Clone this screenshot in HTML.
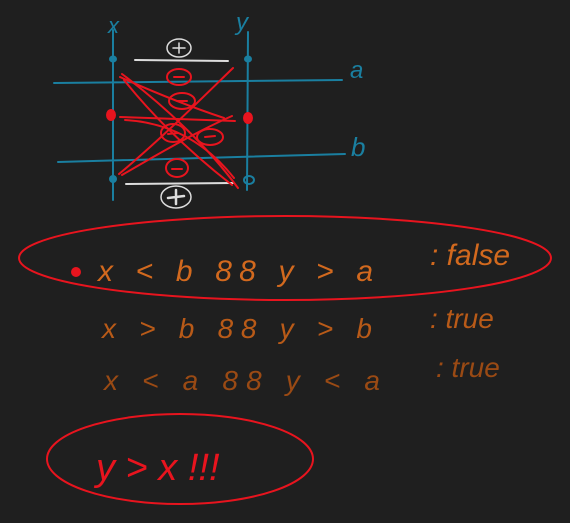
<!DOCTYPE html>
<html><head><meta charset="utf-8"><style>
html,body{margin:0;padding:0;background:#1f1f1f;width:570px;height:523px;overflow:hidden}
text{font-family:"Liberation Sans",sans-serif;font-style:italic}
</style></head><body>
<svg width="570" height="523" viewBox="0 0 570 523" xmlns="http://www.w3.org/2000/svg">
<rect width="570" height="523" fill="#1f1f1f"/>
<g fill="none" stroke-linecap="round">
  <path d="M113 30 L113 200" stroke="#1a7fa0" stroke-width="2"/>
  <path d="M248 32 L247 190" stroke="#1a7fa0" stroke-width="2"/>
  <path d="M54 83 L342 80" stroke="#1a7fa0" stroke-width="2"/>
  <path d="M58 162 L345 154" stroke="#1a7fa0" stroke-width="2"/>
  <text x="108" y="33" fill="#1a7fa0" font-size="22" stroke="none">x</text>
  <text x="236" y="30" fill="#1a7fa0" font-size="24" stroke="none">y</text>
  <text x="350" y="78" fill="#1a7fa0" font-size="24" stroke="none">a</text>
  <text x="351" y="156" fill="#1a7fa0" font-size="26" stroke="none">b</text>
  <ellipse cx="113" cy="59" rx="4" ry="3.5" fill="#1a7fa0" stroke="none"/>
  <ellipse cx="248" cy="59" rx="4" ry="3.5" fill="#1a7fa0" stroke="none"/>
  <ellipse cx="113" cy="179" rx="4" ry="4" fill="#1a7fa0" stroke="none"/>
  <ellipse cx="249" cy="180" rx="5" ry="4" stroke="#1a7fa0" stroke-width="2"/>
  <ellipse cx="111" cy="115" rx="5" ry="6" fill="#e8141e" stroke="none"/>
  <ellipse cx="248" cy="118" rx="5" ry="6" fill="#e8141e" stroke="none"/>
  <path d="M135 60 L228 61" stroke="#ddd" stroke-width="2"/>
  <path d="M126 184 L233 183" stroke="#ddd" stroke-width="2"/>
  <ellipse cx="179" cy="48" rx="12" ry="9" stroke="#ddd" stroke-width="1.5"/>
  <path d="M173 48 L185 48 M179 43 L179 53" stroke="#ddd" stroke-width="1.5"/>
  <ellipse cx="176" cy="197" rx="15" ry="11" stroke="#ddd" stroke-width="1.5"/>
  <path d="M168 198 L184 196 M176 190 L176 204" stroke="#ddd" stroke-width="2.5"/>
  <g stroke="#e8141e" stroke-width="2">
    <path d="M122 74 C170 110 210 150 238 188"/>
    <path d="M120 77 C160 95 200 110 224 118"/>
    <path d="M119 174 C160 140 200 100 233 68"/>
    <path d="M122 175 C165 150 200 130 232 116"/>
    <path d="M120 117 L235 121"/>
    <path d="M124 80 C160 125 200 160 232 185"/>
    <path d="M125 120 C160 122 200 135 234 178"/>
    <ellipse cx="179" cy="77" rx="12" ry="8"/>
    <ellipse cx="182" cy="101" rx="13" ry="8"/>
    <ellipse cx="173" cy="133" rx="12" ry="9"/>
    <ellipse cx="210" cy="137" rx="13" ry="8"/>
    <ellipse cx="177" cy="168" rx="11" ry="9"/>
    <path d="M174 77 L184 77 M177 101 L187 101 M168 134 L178 133 M205 137 L215 136 M172 169 L182 169"/>
  </g>
</g>
<g>
  <ellipse cx="285" cy="258" rx="266" ry="42" fill="none" stroke="#e8141e" stroke-width="2"/>
  <circle cx="76" cy="272" r="5" fill="#e8141e"/>
  <text x="98" y="281" fill="#d2691e" font-size="30" textLength="275">x &lt; b  88 y &gt; a</text>
  <text x="430" y="265" fill="#d2691e" font-size="30">: false</text>
  <text x="102" y="338" fill="#b85a18" font-size="28" textLength="270">x &gt; b   88 y &gt; b</text>
  <text x="430" y="328" fill="#b85a18" font-size="28">: true</text>
  <text x="104" y="390" fill="#9a4a14" font-size="28" textLength="276">x &lt; a   88 y &lt; a</text>
  <text x="436" y="377" fill="#9a4a14" font-size="28">: true</text>
  <ellipse cx="180" cy="459" rx="133" ry="45" fill="none" stroke="#e8141e" stroke-width="2"/>
  <text x="96" y="480" fill="#e8141e" font-size="38">y &gt; x  !!!</text>
</g>
</svg>
</body></html>
